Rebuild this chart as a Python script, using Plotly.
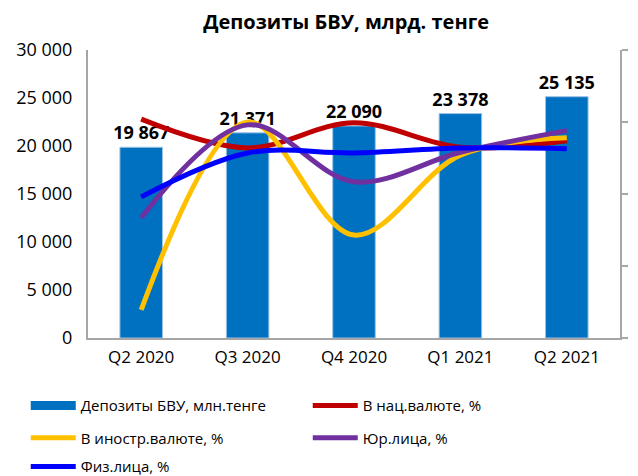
import plotly.graph_objects as go

categories = ["Q2 2020", "Q3 2020", "Q4 2020", "Q1 2021", "Q2 2021"]
deposits = [19867, 21371, 22090, 23378, 25135]
nat_cur = [30.4, 26.4, 29.9, 26.5, 27.4]
foreign_cur = [3.9, 30.0, 14.3, 25.4, 27.8]
legal = [16.7, 29.6, 21.7, 25.8, 28.8]
individ = [19.6, 25.7, 25.7, 26.4, 26.3]

FONT = "Open Sans"
BAR_COLOR = "#0070C0"
fig = go.Figure()
fig.add_trace(go.Bar(
    x=categories, y=deposits, name="Депозиты БВУ, млн.тенге",
    marker=dict(color=BAR_COLOR, line=dict(color="#9DC3E6", width=1)),
    text=[f"{v:,}".replace(",", " ") for v in deposits],
    textposition="outside", cliponaxis=False, constraintext="none",
    textfont=dict(family=FONT, size=18, color="black", weight="bold"),
    width=0.4, showlegend=False,
))
# legend entry for bars drawn as a wide rectangle, like the reference
fig.add_trace(go.Scatter(
    x=[None], y=[None], mode="lines", name="Депозиты БВУ, млн.тенге",
    line=dict(color=BAR_COLOR, width=9), legend="legend",
))
lines = [
    ("В нац.валюте, %", nat_cur, "#C00000", "legend"),
    ("В иностр.валюте, %", foreign_cur, "#FFC000", "legend2"),
    ("Юр.лица, %", legal, "#7030A0", "legend2"),
    ("Физ.лица, %", individ, "#0000FF", "legend3"),
]
for name, vals, col, lg in lines:
    fig.add_trace(go.Scatter(
        x=categories, y=vals, name=name, mode="lines", yaxis="y2",
        line=dict(color=col, width=5, shape="spline", smoothing=1),
        legend=lg,
    ))

leg = dict(orientation="h", xanchor="left", yanchor="top", x=-0.117,
           font=dict(family=FONT, size=15, color="black"),
           entrywidth=222, bgcolor="rgba(0,0,0,0)", itemwidth=45)
fig.update_layout(
    width=638, height=476,
    margin=dict(l=80, r=26, t=42, b=146, autoexpand=False),
    plot_bgcolor="white", paper_bgcolor="white",
    separators=", ",
    font=dict(family=FONT, size=18, color="black"),
    title=dict(text="<b>Депозиты БВУ, млрд. тенге</b>", x=0.530, xanchor="center",
               y=0.971, yanchor="middle", font=dict(family=FONT, size=20, color="black")),
    xaxis=dict(showline=True, linecolor="#A6A6A6", linewidth=2, ticks="",
               ticklabelstandoff=3, tickfont=dict(family=FONT, size=17)),
    yaxis=dict(range=[0, 30000], dtick=5000, tickformat=",d", showgrid=False,
               showline=True, linecolor="#A6A6A6", linewidth=2, zeroline=False,
               ticklabelstandoff=10, tickfont=dict(family=FONT, size=18), ticks=""),
    yaxis2=dict(range=[0, 40], dtick=10, overlaying="y", side="right",
                showgrid=False, showline=True, linecolor="#A6A6A6", linewidth=2,
                ticks="outside", ticklen=6, tickcolor="#A6A6A6", tickwidth=2,
                showticklabels=False, zeroline=False),
    bargap=0.6,
    legend=dict(leg, y=-0.178),
    legend2=dict(leg, y=-0.290),
    legend3=dict(leg, y=-0.390),
)
fig.write_html("out.html")
